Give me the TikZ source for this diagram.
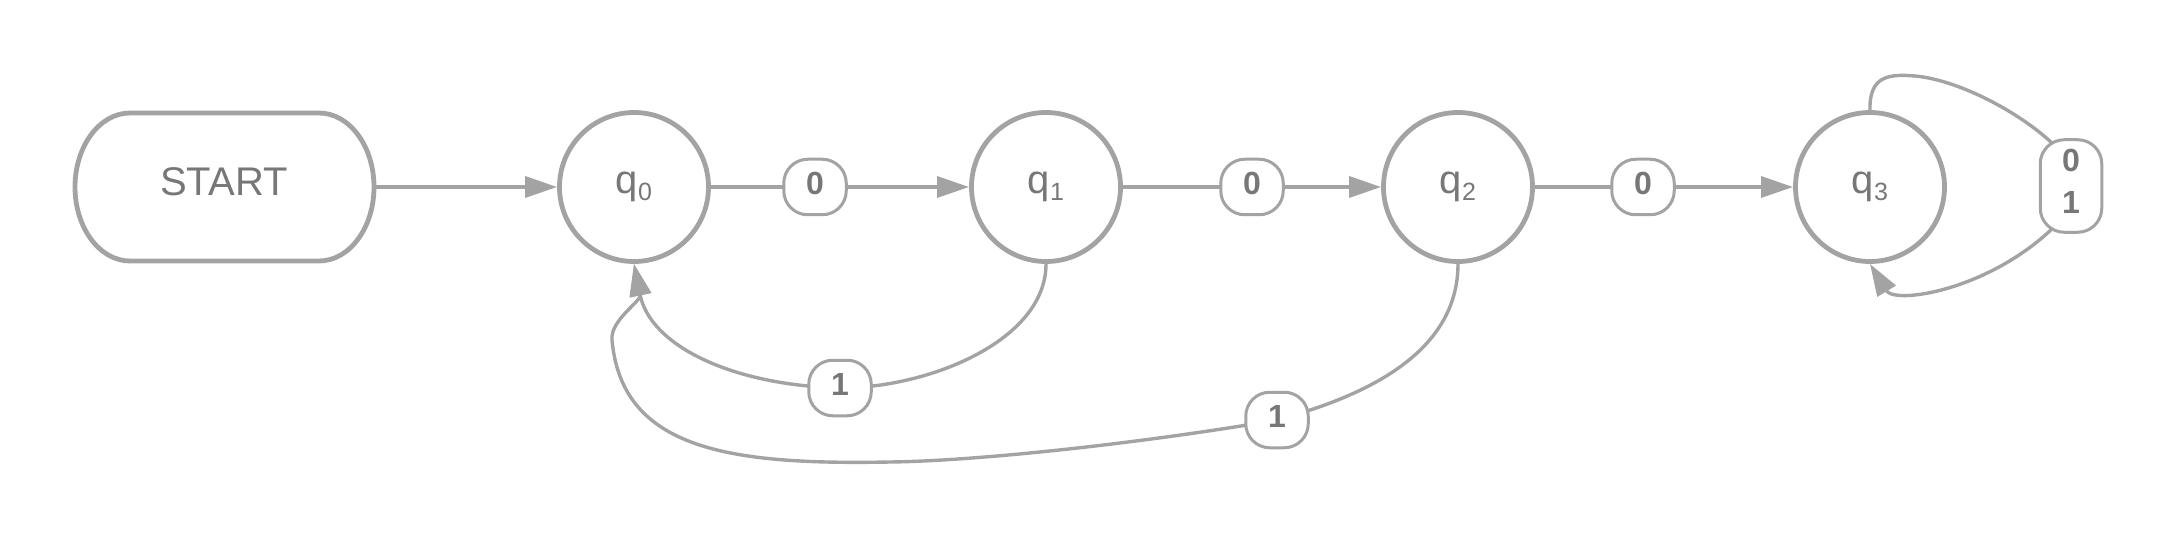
\documentclass[tikz,border=0pt]{standalone}
\usepackage{fontspec}
\setmainfont{Liberation Sans}
\usetikzlibrary{arrows.meta,backgrounds,calc}
\definecolor{ln}{HTML}{A3A3A3}
\definecolor{tx}{HTML}{777777}
\newcommand{\qsub}[1]{q\raisebox{-3.3pt}{\fontsize{12.5}{12.5}\selectfont #1}}
\begin{document}
\begin{tikzpicture}[x=0.5pt,y=-0.5pt,
  qstate/.style={circle,draw=ln,line width=2.4pt,fill=white,minimum size=74.5pt,inner sep=0pt,text=tx,font=\fontsize{20}{24}\selectfont},
  lbl/.style={draw=ln,line width=1.5pt,fill=white,rounded corners=12pt,minimum width=31.25pt,minimum height=27.75pt,inner sep=0pt,text=tx,font=\fontsize{16}{21}\selectfont\bfseries},
  lblone/.style={lbl,text height=11.5pt,text depth=4.5pt},
  conn/.style={draw=ln,line width=1.7pt},
  arr/.style={-{Triangle[length=16pt,width=10.5pt]}},
  startbox/.style={minimum width=149pt,minimum height=74pt,inner sep=0pt,text height=14.3pt,text depth=5.3pt,text=tx,font=\fontsize{20}{24}\selectfont},
  startline/.style={draw=ln,line width=2.4pt}
]
\useasboundingbox (0,0) rectangle (2181,540);

% START terminal
\node[startbox] (start) at (224,187) {START};
\draw[startline] (130,113) -- (319,113)
  arc[start angle=-90,end angle=90,x radius=55,y radius=74]
  -- (130,261)
  arc[start angle=90,end angle=270,x radius=55,y radius=74] -- cycle;

% states
\node[qstate] (q0) at (634,187) {\qsub{0}};
\node[qstate] (q1) at (1046,187) {\qsub{1}};
\node[qstate] (q2) at (1458,187) {\qsub{2}};
\node[qstate] (q3) at (1870,187) {\qsub{3}};

% edge labels
\node[lblone] (L01) at (815,187) {0};
\node[lblone] (L12) at (1252,187) {0};
\node[lblone] (L23) at (1643,187) {0};
\node[lblone] (L10) at (840,388) {1};
\node[lblone] (L20) at (1277,420) {1};
\node[lbl,minimum width=30.75pt,minimum height=46.25pt,align=center,text height=32.5pt,text depth=5pt] (L33) at (2071,186) {0\\1};

\begin{scope}[on background layer]
\draw[conn,arr] (start.east) -- (q0);
\draw[conn] (q0) -- (L01.center);
\draw[conn,arr] (L01.center) -- (q1);
\draw[conn] (q1) -- (L12.center);
\draw[conn,arr] (L12.center) -- (q2);
\draw[conn] (q2) -- (L23.center);
\draw[conn,arr] (L23.center) -- (q3);
% q1 -> q0 on 1
\draw[conn] (q1.south) .. controls (1046,340) and (930,388) .. (L10.center);
\draw[conn,arr] (L10.center) .. controls (730,385) and (650,345) .. (q0.south);
% q2 -> q0 on 1
\draw[conn] (q2.south) .. controls (1458,360) and (1350,400) .. (L20.center);
\draw[conn,arr] (L20.center) .. controls (1150,442) and (980,461) .. (890,462)
  .. controls (730,465) and (622,450) .. (612,340)
  .. controls (610,320) and (642,301) .. (q0.south);
% q3 self loop on 0,1
\draw[conn] (q3.north) .. controls (1869,75) and (1890,74) .. (1915,76)
  .. controls (1960,80) and (2025,115) .. ($(L33.center)+(-14,-38)$);
\draw[conn,arr] ($(L33.center)+(-16,40)$) .. controls (1990,290) and (1895,305) .. (q3.south);
\end{scope}
\end{tikzpicture}
\end{document}
